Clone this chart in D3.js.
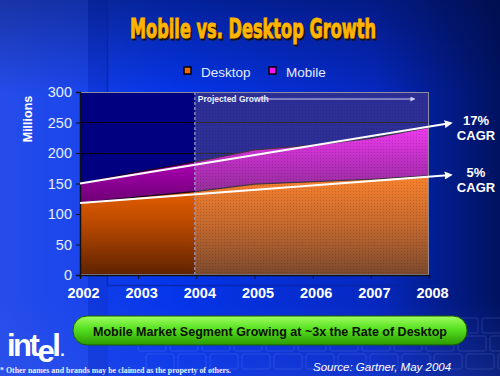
<!DOCTYPE html>
<html>
<head>
<meta charset="utf-8">
<script src="https://cdn.jsdelivr.net/npm/d3@7"></script>
<style>
  html, body { margin: 0; padding: 0; background: #0a2fd0; }
  svg { display: block; }
</style>
</head>
<body>
<div id="chart"></div>
<script>
// chart data
var years = [2002, 2003, 2004, 2005, 2006, 2007, 2008],
	desktop = [118, 128, 137, 149, 153, 157, 163],
	mobile = [32, 41, 49, 56, 60, 67, 79],
	yTicks = [0, 50, 100, 150, 200, 250, 300],
	seriesNames = ["Desktop", "Mobile"],
	trendYears = [2002, 2008.38],
	desktopTrend = [118, 164],
	mobileTrend = [150, 249],
	trendLabels = [["17%", "CAGR"], ["5%", "CAGR"]],
	projectedFrom = 2004;

var W = 500, H = 376;
var margin = {top: 92, right: 71, bottom: 101, left: 80},
	width = W - margin.left - margin.right,
	height = H - margin.top - margin.bottom;

var svg = d3.select("#chart").append("svg")
	.attr("width", W)
	.attr("height", H);

var defs = svg.append("defs");

function linGrad(id, x1, y1, x2, y2, stops, userSpace) {
	var g = defs.append("linearGradient")
		.attr("id", id)
		.attr("x1", x1).attr("y1", y1)
		.attr("x2", x2).attr("y2", y2);
	if (userSpace) g.attr("gradientUnits", "userSpaceOnUse");
	stops.forEach(function(s) {
		g.append("stop").attr("offset", s[0]).attr("stop-color", s[1]);
	});
}

var xScale = d3.scaleLinear().domain([2002, 2008]).range([0, width]),
	yScale = d3.scaleLinear().domain([0, 300]).range([height, 0]);

// background
linGrad("bgH", "0", "0", "1", "0", [[0, "#2048e8"], [0.35, "#0535ea"], [0.75, "#0628c0"], [1, "#001260"]]);
linGrad("bgV", "0", "0", "0", "1", [[0, "rgba(0,10,60,0.45)"], [0.25, "rgba(0,10,60,0)"], [0.8, "rgba(60,90,230,0)"], [1, "rgba(60,90,230,0.25)"]]);
svg.append("rect").attr("width", W).attr("height", H).attr("fill", "url(#bgH)");
svg.append("rect").attr("width", W).attr("height", H).attr("fill", "url(#bgV)");
svg.append("rect").attr("x", 0).attr("width", 88).attr("height", H)
	.attr("fill", "#5070ff").attr("opacity", 0.12);
svg.append("rect").attr("x", 88).attr("width", 20).attr("height", H)
	.attr("fill", "#001080").attr("opacity", 0.12);
svg.append("path")
	.attr("d", "M107.5,0V285.5H440")
	.attr("fill", "none").attr("stroke", "#0a249a").attr("stroke-width", 1.5).attr("opacity", 0.7);

// faint keyboard keys
var keys = svg.append("g").attr("opacity", 0.18);
for (var r = 0; r < 3; r++) {
	for (var c = 0; c < 12; c++) {
		keys.append("rect")
			.attr("x", 130 + c * 32 + r * 8)
			.attr("y", 318 + r * 18)
			.attr("width", 28).attr("height", 15).attr("rx", 2)
			.attr("fill", "none").attr("stroke", "#9bb0ff").attr("stroke-width", 1);
	}
}

// title
svg.append("text")
	.attr("x", 253 + 1.5).attr("y", 38 + 1.5)
	.attr("text-anchor", "middle")
	.attr("font-family", "'Liberation Sans Narrow', 'DejaVu Sans Condensed', sans-serif")
	.attr("font-weight", "bold").attr("font-size", 27)
	.attr("textLength", 246).attr("lengthAdjust", "spacingAndGlyphs")
	.attr("fill", "#1a1000")
	.attr("stroke", "#1a1000").attr("stroke-width", 1)
	.text("Mobile vs. Desktop Growth");
svg.append("text")
	.attr("x", 253).attr("y", 38)
	.attr("text-anchor", "middle")
	.attr("font-family", "'Liberation Sans Narrow', 'DejaVu Sans Condensed', sans-serif")
	.attr("font-weight", "bold").attr("font-size", 27)
	.attr("textLength", 246).attr("lengthAdjust", "spacingAndGlyphs")
	.attr("fill", "#ffb400")
	.attr("stroke", "#ffb400").attr("stroke-width", 1)
	.text("Mobile vs. Desktop Growth");

// legend
var legendColors = ["#f06a00", "#ff10ff"],
	legendX = [184, 269];
var legend = svg.append("g").attr("class", "legend");
seriesNames.forEach(function(name, i) {
	legend.append("rect")
		.attr("x", legendX[i]).attr("y", 67)
		.attr("width", 7).attr("height", 7)
		.attr("fill", legendColors[i])
		.attr("stroke", "#000").attr("stroke-width", 1.5);
	legend.append("text")
		.attr("x", legendX[i] + 17).attr("y", 77)
		.attr("font-family", "'Liberation Sans', Arial, sans-serif")
		.attr("font-size", 13.5)
		.attr("fill", "#e6ecff")
		.text(name);
});

// plot
var main = svg.append("g")
	.attr("transform", "translate(" + margin.left + "," + margin.top + ")");

main.append("rect")
	.attr("width", width).attr("height", height)
	.attr("fill", "#000080");

main.selectAll(".grid")
	.data(yTicks.filter(function(d) { return d > 0; }))
	.enter().append("line")
	.attr("class", "grid")
	.attr("x1", 0).attr("x2", width)
	.attr("y1", function(d) { return Math.round(yScale(d)) + 0.5; })
	.attr("y2", function(d) { return Math.round(yScale(d)) + 0.5; })
	.attr("stroke", "#000").attr("stroke-width", 1);

var stackData = years.map(function(y, i) {
	return {year: y, Desktop: desktop[i], Mobile: mobile[i]};
});
var stacked = d3.stack().keys(seriesNames)(stackData);

linGrad("gDesk", 0, yScale(165), 0, yScale(0),
	[[0, "#fa6800"], [0.5, "#b84800"], [1, "#5e2200"]], true);
linGrad("gMob", 0, yScale(245), 0, yScale(115),
	[[0, "#f010f0"], [0.55, "#a000a8"], [1, "#6a0070"]], true);

var area = d3.area()
	.x(function(d) { return xScale(d.data.year); })
	.y0(function(d) { return yScale(d[0]); })
	.y1(function(d) { return yScale(d[1]); });
var topLine = d3.line()
	.x(function(d) { return xScale(d.data.year); })
	.y(function(d) { return yScale(d[1]); });

main.selectAll(".area")
	.data(stacked)
	.enter().append("path")
	.attr("class", "area")
	.attr("fill", function(d, i) { return i === 0 ? "url(#gDesk)" : "url(#gMob)"; })
	.attr("d", area);

main.selectAll(".edge")
	.data(stacked)
	.enter().append("path")
	.attr("class", "edge")
	.attr("fill", "none")
	.attr("stroke", "#1a0a20").attr("stroke-width", 1.2)
	.attr("d", topLine);

// projected overlay with fine dot texture
var pat = defs.append("pattern")
	.attr("id", "dots").attr("width", 3).attr("height", 3)
	.attr("patternUnits", "userSpaceOnUse");
pat.append("rect").attr("width", 1).attr("height", 1).attr("fill", "rgba(0,0,0,0.15)");

var px = xScale(projectedFrom) - 1.5;
main.append("rect")
	.attr("x", px).attr("y", 0)
	.attr("width", width - px).attr("height", height)
	.attr("fill", "#ffffff").attr("opacity", 0.18);
main.append("rect")
	.attr("x", px).attr("y", 0)
	.attr("width", width - px).attr("height", height)
	.attr("fill", "url(#dots)");
main.append("line")
	.attr("x1", px).attr("x2", px)
	.attr("y1", 0).attr("y2", height)
	.attr("stroke", "#a0a0c8").attr("stroke-width", 1.5)
	.attr("stroke-dasharray", "3,2")
	.attr("opacity", 0.8);

// plot frame
main.append("rect")
	.attr("x", 0.5).attr("y", 0.5)
	.attr("width", width - 1).attr("height", height - 1)
	.attr("fill", "none").attr("stroke", "#8c8ca0").attr("stroke-width", 1);

// axes
var yAxis = d3.axisLeft(yScale).tickValues(yTicks).tickSize(4).tickPadding(4);
var xAxis = d3.axisBottom(xScale).tickValues(years).tickSize(4).tickPadding(9)
	.tickFormat(d3.format("d"));

var gy = main.append("g").attr("class", "axis axis--y").call(yAxis);
gy.select(".domain").attr("stroke", "#101010").attr("stroke-width", 1.5);
gy.selectAll(".tick line").attr("stroke", "#101010");
gy.selectAll(".tick text")
	.attr("font-family", "'Liberation Sans', Arial, sans-serif")
	.attr("font-size", 14.5).attr("fill", "#e8eeff");

var gx = main.append("g").attr("class", "axis axis--x")
	.attr("transform", "translate(0," + height + ")")
	.call(xAxis);
gx.select(".domain").attr("stroke", "#101010").attr("stroke-width", 1.5);
gx.selectAll(".tick line").attr("stroke", "#101010");
gx.selectAll(".tick text")
	.attr("dx", 3)
	.attr("font-family", "'Liberation Sans', Arial, sans-serif")
	.attr("font-weight", "bold")
	.attr("font-size", 14.5).attr("fill", "#ffffff");

svg.append("text")
	.attr("transform", "translate(32," + 119 + ") rotate(-90)")
	.attr("text-anchor", "middle")
	.attr("font-family", "'Liberation Sans', Arial, sans-serif")
	.attr("font-weight", "bold").attr("font-size", 12.5)
	.attr("fill", "#ffffff")
	.text("Millions");

// projected growth label
main.append("text")
	.attr("x", px + 3).attr("y", 9.5)
	.attr("font-family", "'Liberation Sans', Arial, sans-serif")
	.attr("font-weight", "bold").attr("font-size", 8.5)
	.attr("fill", "#f0f0ff")
	.text("Projected Growth");

defs.append("marker")
	.attr("id", "arrow").attr("viewBox", "0 0 10 10")
	.attr("refX", 8).attr("refY", 5)
	.attr("markerWidth", 4).attr("markerHeight", 4)
	.attr("orient", "auto")
	.append("path").attr("d", "M0,0L10,5L0,10z").attr("fill", "#ffffff");
defs.append("marker")
	.attr("id", "arrowSmall").attr("viewBox", "0 0 10 10")
	.attr("refX", 8).attr("refY", 5)
	.attr("markerWidth", 5).attr("markerHeight", 5)
	.attr("orient", "auto")
	.append("path").attr("d", "M0,0L10,5L0,10z").attr("fill", "#d0d0f0");

main.append("line")
	.attr("x1", xScale(2005.1)).attr("x2", xScale(2007.75))
	.attr("y1", 7).attr("y2", 7)
	.attr("stroke", "#d0d0f0").attr("stroke-width", 1)
	.attr("marker-end", "url(#arrowSmall)");

// CAGR trend lines (drawn outside the plot frame on the right)
var trendLine = d3.line()
	.x(function(d) { return xScale(d[0]); })
	.y(function(d) { return yScale(d[1]); });

[mobileTrend, desktopTrend].forEach(function(t, k) {
	main.append("path")
		.datum(trendYears.map(function(y, i) { return [y, t[i]]; }))
		.attr("fill", "none")
		.attr("stroke", "#ffffff").attr("stroke-width", 2)
		.attr("marker-end", "url(#arrow)")
		.attr("d", trendLine);
	var lx = margin.left + xScale(2008) + 47,
		ly = margin.top + yScale(t[1]) + 2;
	var tl = svg.append("text")
		.attr("text-anchor", "middle")
		.attr("font-family", "'Liberation Sans', Arial, sans-serif")
		.attr("font-weight", "bold").attr("font-size", 13)
		.attr("fill", "#ffffff");
	trendLabels[k].forEach(function(s, j) {
		tl.append("tspan").attr("x", lx).attr("y", ly + j * 15).text(s);
	});
});

// green banner
linGrad("gBanner", "0", "0", "0", "1", [[0, "#a0ff60"], [0.45, "#56e020"], [1, "#2a9a00"]]);
svg.append("rect")
	.attr("x", 73).attr("y", 316)
	.attr("width", 394).attr("height", 29).attr("rx", 14)
	.attr("fill", "url(#gBanner)")
	.attr("stroke", "#1a5a00").attr("stroke-width", 1);
svg.append("text")
	.attr("x", 270).attr("y", 335.5)
	.attr("text-anchor", "middle")
	.attr("font-family", "'Liberation Sans', Arial, sans-serif")
	.attr("font-weight", "bold").attr("font-size", 12.5)
	.attr("fill", "#081000")
	.text("Mobile Market Segment Growing at ~3x the Rate of Desktop");

// intel logo
var logo = svg.append("text")
	.attr("x", 7).attr("y", 356)
	.attr("font-family", "'Liberation Sans', Arial, sans-serif")
	.attr("font-weight", "bold").attr("font-size", 31)
	.attr("letter-spacing", -2.5)
	.attr("fill", "#ffffff");
logo.append("tspan").text("int");
logo.append("tspan").attr("dy", 6).text("e");
logo.append("tspan").attr("dy", -6).text("l");
logo.append("tspan").attr("font-size", 16).attr("dx", 2).text(".");

svg.append("text")
	.attr("x", 0).attr("y", 373)
	.attr("font-family", "'Liberation Serif', 'Times New Roman', serif")
	.attr("font-weight", "bold").attr("font-size", 8)
	.attr("textLength", 231).attr("lengthAdjust", "spacingAndGlyphs")
	.attr("fill", "#e8eeff")
	.text("* Other names and brands may be claimed as the property of others.");

svg.append("text")
	.attr("x", 313).attr("y", 371)
	.attr("font-family", "'Liberation Sans', Arial, sans-serif")
	.attr("font-style", "italic").attr("font-size", 11.5)
	.attr("fill", "#ffffff")
	.text("Source: Gartner, May 2004");
</script>
</body>
</html>
